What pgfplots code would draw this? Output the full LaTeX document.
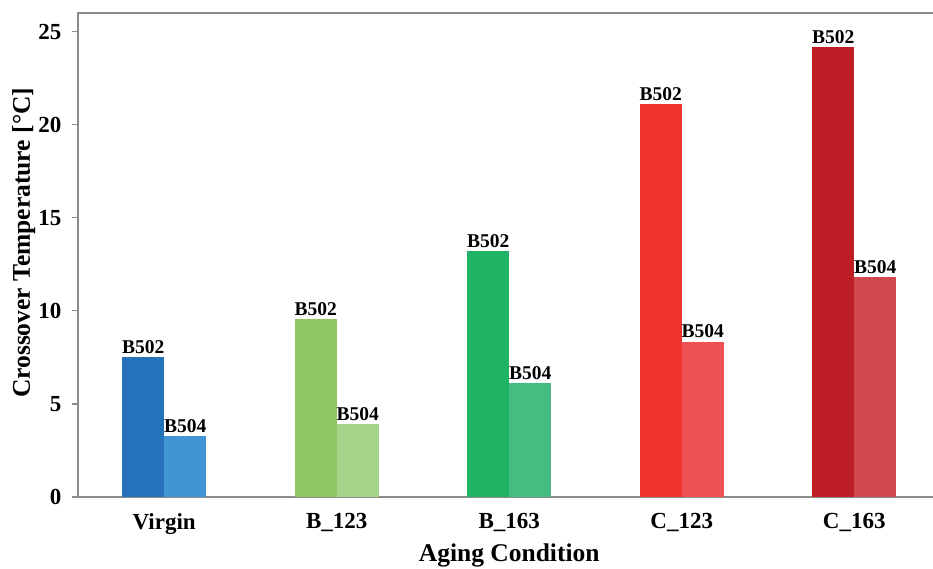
\documentclass[border=0pt]{standalone}
\usepackage{pgfplots}
\pgfplotsset{compat=1.18}
\usepackage{fontspec}
\setmainfont{Liberation Serif}
\definecolor{axgray}{HTML}{8C8C8C}
\definecolor{va}{HTML}{2672BA}
\definecolor{vb}{HTML}{4195D5}
\definecolor{ba}{HTML}{8CC665}
\definecolor{bb}{HTML}{A6D48B}
\definecolor{ga}{HTML}{20B365}
\definecolor{gb}{HTML}{46BC82}
\definecolor{ca}{HTML}{EE342C}
\definecolor{cb}{HTML}{EE5151}
\definecolor{da}{HTML}{BE1E25}
\definecolor{db}{HTML}{D0494E}
\pgfplotsset{
  barA/.style={fill=#1, draw=none, bar shift=-21pt, nodes near coords={B502}},
  barB/.style={fill=#1, draw=none, bar shift=21pt, nodes near coords={B504}},
}
\begin{document}
\begin{tikzpicture}
\begin{axis}[
  width=862.5pt, height=484pt, scale only axis,
  ybar, bar width=42pt,
  xmin=-0.5, xmax=4.5, ymin=0, ymax=26,
  xtick={0,1,2,3,4},
  xticklabels={Virgin,B\_123,B\_163,C\_123,C\_163},
  x tick style={draw=none},
  extra x ticks={0.5,1.5,2.5,3.5},
  extra x tick labels={},
  extra x tick style={tick align=inside, major tick length=5pt, tick style={draw=axgray, line width=1pt}},
  ytick={0,5,10,15,20,25},
  ytick pos=left, xtick pos=bottom,
  y tick style={draw=axgray, line width=1.2pt},
  tick align=outside, major tick length=6pt,
  axis line style={draw=axgray, line width=1.5pt},
  /pgf/number format/assume math mode=true,
  ticklabel style={font=\bfseries\fontsize{23}{23}\selectfont},
  x tick label style={yshift=-7pt},
  y tick label style={xshift=-7pt},
  xlabel={Aging Condition},
  ylabel={Crossover Temperature [°C]},
  label style={font=\bfseries\fontsize{25.5}{25.5}\selectfont},
  xlabel style={at={(axis description cs:0.5,-0.1200)}, anchor=center},
  ylabel style={at={(axis description cs:-0.0630,0.525)}, anchor=center},
  every node near coord/.append style={font=\bfseries\fontsize{19.5}{19.5}\selectfont, anchor=south, inner sep=3.5pt},
  clip=false,
]
\addplot[barA=va] coordinates {(0,7.5)};
\addplot[barB=vb] coordinates {(0,3.25)};
\addplot[barA=ba] coordinates {(1,9.55)};
\addplot[barB=bb] coordinates {(1,3.9)};
\addplot[barA=ga] coordinates {(2,13.2)};
\addplot[barB=gb] coordinates {(2,6.1)};
\addplot[barA=ca] coordinates {(3,21.1)};
\addplot[barB=cb] coordinates {(3,8.35)};
\addplot[barA=da] coordinates {(4,24.15)};
\addplot[barB=db] coordinates {(4,11.8)};
\end{axis}
\pgfresetboundingbox
\useasboundingbox (-78pt,-72pt) rectangle (855pt,497pt);
\end{tikzpicture}
\end{document}
